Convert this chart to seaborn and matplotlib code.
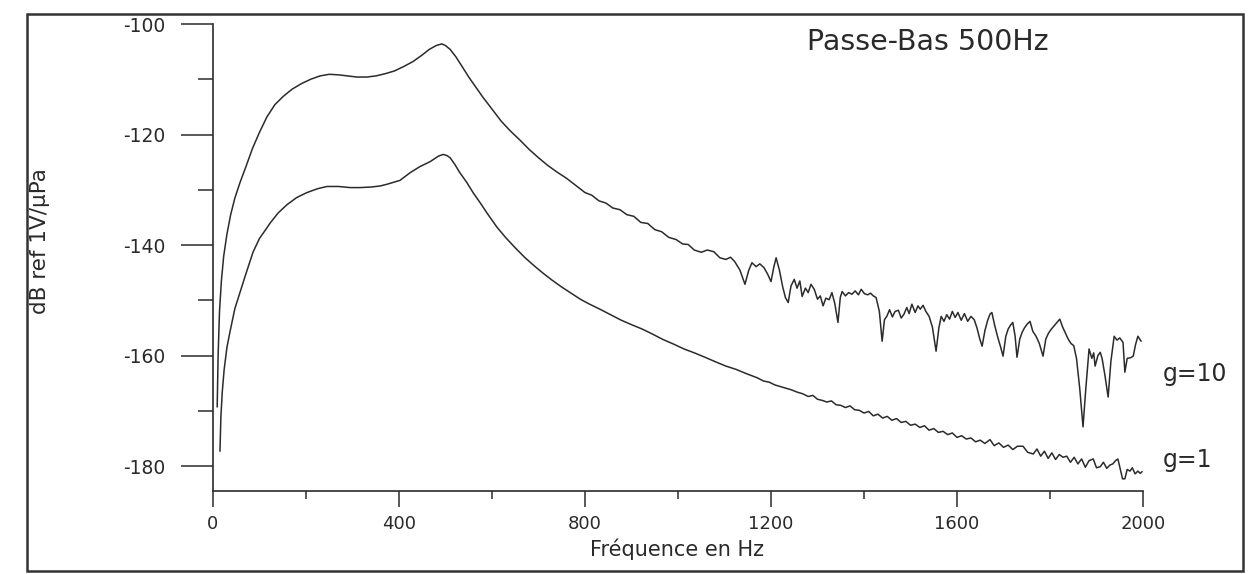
import matplotlib
matplotlib.use("Agg")
import matplotlib.pyplot as plt
from matplotlib.ticker import MultipleLocator
from matplotlib.patches import Rectangle
import seaborn as sns
import pandas as pd

# ---------------- data ----------------
freq_g10 = [9, 11, 14, 18, 23, 30, 38, 47, 58, 70, 85, 100, 116, 133, 151, 170, 190, 210, 230, 250,
            270, 290, 310, 330, 350, 370, 390, 410, 430, 450, 465, 480, 492, 500, 510, 522, 535, 550,
            565, 580, 600, 620, 640, 660, 680, 700, 720, 740, 760, 780, 800, 815, 830, 845, 860, 875,
            890, 905, 920, 935, 950, 965, 980, 996,
            1010, 1022, 1035, 1050, 1063, 1077, 1090, 1103, 1113, 1122, 1133, 1144, 1152, 1159, 1168,
            1176, 1185, 1193, 1200, 1206, 1211, 1218, 1225, 1231, 1237, 1243, 1250, 1256, 1262, 1267,
            1274, 1280, 1286, 1293, 1300, 1306, 1312, 1318, 1325, 1331, 1337, 1344, 1349, 1353, 1360,
            1367, 1374, 1381, 1388, 1394, 1401, 1408, 1414, 1420, 1426, 1433, 1439, 1444, 1449, 1455,
            1461, 1467, 1474, 1480, 1486, 1492, 1497, 1503, 1510, 1516, 1521, 1527, 1533, 1540, 1547,
            1555, 1561, 1566, 1572, 1578, 1584, 1590, 1596, 1602, 1609, 1616, 1623, 1630, 1637, 1643,
            1649, 1654, 1660, 1666, 1671, 1675, 1681, 1688, 1694, 1699, 1705, 1710, 1715, 1720, 1725,
            1729, 1735, 1740, 1745, 1751, 1757, 1763, 1770, 1777, 1785, 1791, 1797, 1803, 1809, 1815,
            1821, 1827, 1833, 1839, 1845, 1851, 1857, 1864, 1871, 1877, 1884, 1890, 1894, 1897, 1903,
            1908, 1912, 1918, 1925, 1931, 1938, 1944, 1950, 1957, 1961, 1966, 1973, 1979, 1984, 1989,
            1996]
db_g10 = [-169.3, -160.0, -152.0, -146.5, -142.0, -138.0, -134.5, -131.5, -128.7, -126.0, -122.5,
          -119.6, -116.8, -114.6, -113.1, -111.8, -110.8, -110.0, -109.4, -109.1, -109.2, -109.4,
          -109.6, -109.6, -109.4, -109.0, -108.5, -107.7, -106.8, -105.6, -104.6, -103.9, -103.6,
          -103.9, -104.6, -105.9, -107.6, -109.6, -111.4, -113.2, -115.4, -117.6, -119.4, -121.0,
          -122.7, -124.2, -125.6, -126.8, -127.9, -129.2, -130.5, -131.0, -132.0, -132.4, -133.3,
          -133.6, -134.5, -134.8, -135.9, -136.1, -137.2, -137.6, -138.6, -139.0,
          -139.8, -139.9, -140.9, -141.3, -140.9, -141.2, -142.3, -142.6, -142.2, -143.0, -144.5,
          -147.1, -144.6, -143.2, -143.9, -143.4, -144.1, -145.3, -146.6, -144.0, -142.3, -144.5,
          -147.5, -149.5, -150.4, -147.4, -146.2, -147.8, -146.5, -149.3, -147.8, -148.6, -147.1,
          -148.0, -149.8, -149.2, -151.0, -149.6, -149.9, -148.6, -150.5, -154.0, -149.5, -148.4,
          -149.2, -148.6, -148.9, -148.3, -149.0, -148.0, -148.8, -149.0, -148.7, -149.2, -149.5,
          -152.0, -157.4, -153.5, -152.9, -151.7, -153.0, -152.0, -151.8, -153.2, -152.5, -151.3,
          -152.4, -150.7, -152.2, -151.0, -151.6, -150.9, -152.0, -152.9, -154.8, -159.2, -155.0,
          -152.9, -153.8, -152.6, -153.4, -152.0, -153.1, -152.2, -153.6, -152.4, -153.8, -152.9,
          -153.5, -155.0, -157.0, -158.3, -155.5, -153.6, -152.5, -152.2, -154.5, -156.8, -158.5,
          -160.1, -156.5, -155.2, -154.5, -154.0, -156.5, -160.3, -157.0, -155.8, -155.0, -154.3,
          -153.8, -155.6, -156.5, -157.8, -160.1, -157.0, -155.9, -155.2, -154.6, -154.0, -153.4,
          -154.8, -155.9, -157.0, -157.8, -158.2, -160.5, -166.0, -172.9, -166.0, -158.8, -160.5,
          -159.5, -161.9, -160.0, -159.4, -160.5, -163.5, -167.5, -161.0, -156.5, -157.2, -156.8,
          -157.6, -163.0, -160.5, -160.4, -160.1, -158.0, -156.5, -157.4]

freq_g1 = [15, 17, 20, 24, 30, 37, 47, 58, 70, 86, 100, 115, 123, 140, 159, 180, 202, 225, 245, 270,
           295, 316, 340, 360, 374, 390, 402, 424, 445, 467, 485, 495, 503, 510, 520, 530, 546, 560,
           575, 590, 611, 630, 650, 670, 690, 710, 730, 750, 770, 790, 810, 832, 855, 878, 900, 923,
           945, 968, 990, 1013, 1035, 1058, 1080, 1103, 1125, 1148, 1170, 1184, 1196, 1208,
           1220, 1232, 1244, 1256, 1268, 1280, 1290, 1300, 1310, 1320, 1330, 1340, 1350, 1360, 1370,
           1380, 1390, 1400, 1410, 1420, 1430, 1440, 1450, 1460, 1470, 1480, 1490, 1500, 1510, 1520,
           1530, 1540, 1550, 1560, 1570, 1580, 1590, 1600, 1610, 1620, 1630, 1640, 1650, 1660, 1671,
           1680, 1690, 1700, 1710, 1720, 1730, 1742, 1752, 1764, 1772, 1780, 1788, 1796, 1804, 1812,
           1820, 1828, 1836, 1844, 1852, 1860, 1868, 1876, 1884, 1893, 1900, 1908, 1915, 1922, 1929,
           1935, 1941, 1946, 1951, 1956, 1961, 1966, 1972, 1977, 1983, 1989, 1994, 1998]
db_g1 = [-177.3, -171.0, -166.5, -162.5, -158.5, -155.5, -151.5, -148.6, -145.4, -141.3, -138.8,
         -137.0, -136.0, -134.2, -132.7, -131.4, -130.5, -129.8, -129.4, -129.4, -129.6, -129.6,
         -129.5, -129.3, -129.0, -128.6, -128.3, -126.9, -125.8, -124.9, -123.9, -123.6, -123.8,
         -124.2, -125.4, -126.8, -128.7, -130.6, -132.4, -134.3, -136.8, -138.7, -140.5, -142.2,
         -143.7, -145.1, -146.4, -147.6, -148.7, -149.8, -150.7, -151.6, -152.6, -153.6, -154.4,
         -155.2, -156.1, -157.1, -157.9, -158.8, -159.5, -160.3, -161.1, -161.9, -162.5, -163.3,
         -164.0, -164.6, -164.8, -165.3,
         -165.6, -165.9, -166.2, -166.6, -166.9, -167.4, -167.2, -167.9, -168.1, -168.4, -168.2,
         -168.9, -169.0, -169.4, -169.1, -169.8, -169.9, -170.4, -170.1, -170.9, -170.6, -171.3,
         -171.0, -171.7, -171.4, -172.1, -171.9, -172.6, -172.4, -173.0, -172.7, -173.5, -173.2,
         -173.9, -173.7, -174.3, -174.0, -174.8, -174.5, -175.1, -174.9, -175.6, -175.3, -175.9,
         -175.2, -176.3, -175.8, -176.6, -176.2, -177.0, -176.4, -176.4, -177.5, -177.8, -176.9,
         -178.2, -177.3, -178.6, -177.6, -178.8, -177.9, -178.4, -178.2, -179.3, -178.4, -179.6,
         -178.7, -180.2, -179.0, -178.7, -180.3, -180.1, -179.3, -180.4, -179.8, -179.6, -179.0,
         -178.7, -180.5, -182.3, -182.3, -180.6, -180.9, -180.3, -181.4, -180.9, -181.3, -181.0]

series_labels = ["g=10", "g=1"]
title_text = "Passe-Bas 500Hz"
x_label = "Fréquence en Hz"
y_label = "dB ref 1V/µPa"
x_ticks = [0, 400, 800, 1200, 1600, 2000]
y_ticks = [-180, -160, -140, -120, -100]

# ---------------- figure ----------------
sns.set_style("ticks")
plt.rcParams["font.family"] = ["DejaVu Sans"]
plt.rcParams["axes.unicode_minus"] = False

W, H = 1259, 574
fig = plt.figure(figsize=(W / 100, H / 100), dpi=100)
fig.patch.set_facecolor("white")

def fx(px):
    return px / W

def fy(py):
    return 1 - py / H

ax_l, ax_r, ax_t, ax_b = 213, 1143, 24, 491
ax = fig.add_axes([fx(ax_l), fy(ax_b), (ax_r - ax_l) / W, (ax_b - ax_t) / H])

df = pd.concat([
    pd.DataFrame({"f": freq_g10, "db": db_g10, "serie": series_labels[0]}),
    pd.DataFrame({"f": freq_g1, "db": db_g1, "serie": series_labels[1]}),
])
line_col = "#2b2b2b"
sns.lineplot(data=df, x="f", y="db", units="serie", estimator=None, sort=False,
             color=line_col, linewidth=1.1, ax=ax, legend=False)

ax.set_xlim(0, 2000)
ax.set_ylim(-184.5, -100)
ax.set_xticks(x_ticks)
ax.set_yticks(y_ticks)
ax.xaxis.set_minor_locator(MultipleLocator(200))
ax.yaxis.set_minor_locator(MultipleLocator(10))
ax.set_xlabel("")
ax.set_ylabel("")

for s in ["top", "right"]:
    ax.spines[s].set_visible(False)
for s in ["left", "bottom"]:
    ax.spines[s].set_color(line_col)
    ax.spines[s].set_linewidth(1.2)

txt_col = "#2a2a2a"
ax.tick_params(axis="y", which="major", length=23, width=1.1, direction="out", pad=11,
               labelsize=13.5, colors=line_col, labelcolor=txt_col)
ax.tick_params(axis="y", which="minor", length=11, width=1.1, direction="out", colors=line_col)
ax.tick_params(axis="x", which="major", length=11.5, width=1.1, direction="out", pad=6,
               labelsize=13, colors=line_col, labelcolor=txt_col)
ax.tick_params(axis="x", which="minor", length=6, width=1.1, direction="out", colors=line_col)

# texts
fig.text(fx(928), fy(42), title_text, ha="center", va="center", fontsize=20.5, color=txt_col)
fig.text(fx(677), fy(549), x_label, ha="center", va="center", fontsize=15, color=txt_col)
fig.text(fx(40), fy(241), y_label, ha="center", va="center", rotation=90, fontsize=15.5, color=txt_col)
fig.text(fx(1163), fy(374), series_labels[0], ha="left", va="center", fontsize=17, color=txt_col)
fig.text(fx(1163), fy(460), series_labels[1], ha="left", va="center", fontsize=17, color=txt_col)

# outer frame
fig.patches.append(Rectangle((fx(27), fy(571)), (1243 - 27) / W, (571 - 14) / H,
                             transform=fig.transFigure, fill=False, edgecolor="#333333",
                             linewidth=1.8, zorder=0))

fig.savefig("out.png", dpi=100, facecolor="white")
